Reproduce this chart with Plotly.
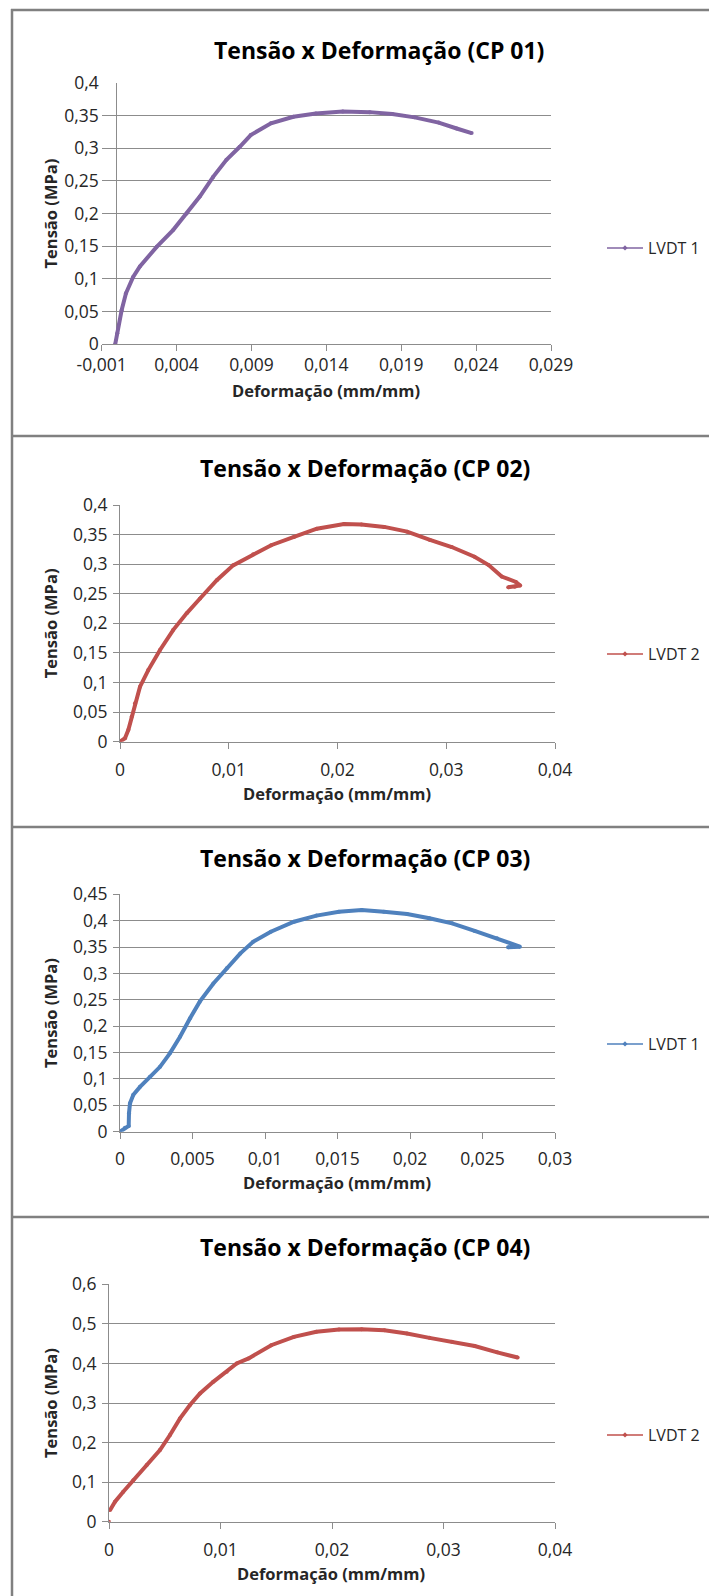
import plotly.graph_objects as go

W, H = 709, 1596

# ---- CP 01 (LVDT 1) ----
cp01_strain = [-0.0001, 0.00004, 0.00033, 0.00062, 0.0011, 0.00155, 0.00267, 0.00378,
               0.00467, 0.00555, 0.00644, 0.00733, 0.00822, 0.00895, 0.0103, 0.0118,
               0.0133, 0.0151, 0.0169, 0.0184, 0.0199, 0.0215, 0.0227, 0.0237]
cp01_stress = [0.0, 0.017, 0.052, 0.078, 0.103, 0.119, 0.149, 0.175,
               0.200, 0.226, 0.256, 0.282, 0.302, 0.320, 0.338, 0.348,
               0.353, 0.356, 0.355, 0.352, 0.347, 0.339, 0.330, 0.323]

# ---- CP 02 (LVDT 2) ----
cp02_strain = [0.0, 0.00046, 0.00077, 0.00107, 0.00138, 0.00184, 0.0026, 0.00368,
               0.0049, 0.00613, 0.00736, 0.0089, 0.0104, 0.01225, 0.0139, 0.016,
               0.0181, 0.0206, 0.0222, 0.0243, 0.0264, 0.0285, 0.0305, 0.0326,
               0.0339, 0.0351, 0.0364, 0.0368, 0.0363, 0.0357]
cp02_stress = [0.0, 0.006, 0.020, 0.042, 0.065, 0.093, 0.121, 0.155,
               0.189, 0.217, 0.242, 0.273, 0.298, 0.3166, 0.332, 0.346,
               0.360, 0.3677, 0.367, 0.363, 0.355, 0.341, 0.329, 0.3125,
               0.2985, 0.279, 0.270, 0.264, 0.262, 0.261]

# ---- CP 03 (LVDT 1) ----
cp03_strain = [0.0, 0.00034, 0.0006, 0.00062, 0.00069, 0.00092, 0.00138, 0.00207,
               0.00276, 0.00345, 0.00414, 0.00483, 0.0055, 0.00644, 0.00736, 0.0083,
               0.00918, 0.0104, 0.0120, 0.01355, 0.0151, 0.01667, 0.0182, 0.0198,
               0.02134, 0.0229, 0.02446, 0.0260, 0.02758, 0.02676]
cp03_stress = [0.0, 0.0076, 0.011, 0.035, 0.054, 0.070, 0.085, 0.104,
               0.123, 0.149, 0.180, 0.215, 0.2465, 0.281, 0.310, 0.338,
               0.360, 0.379, 0.398, 0.4096, 0.417, 0.4204, 0.417, 0.4128,
               0.4046, 0.395, 0.3806, 0.3667, 0.3508, 0.3496]

# ---- CP 04 (LVDT 2) ----
cp04_strain = [0.0, None, 0.0001, 0.00054, 0.00128, 0.00218, 0.00338, 0.00457,
               0.00547, 0.00637, 0.00726, 0.00816, 0.00935, 0.01056, 0.01145, 0.01252,
               0.01455, 0.01658, 0.0186, 0.02063, 0.02266, 0.0247, 0.02672, 0.02874,
               0.03076, 0.0328, 0.03482, 0.03665]
cp04_stress = [0.0, None, 0.0295, 0.0505, 0.0758, 0.105, 0.143, 0.181,
               0.219, 0.261, 0.295, 0.324, 0.3535, 0.379, 0.400, 0.4126,
               0.446, 0.467, 0.480, 0.486, 0.4866, 0.484, 0.4757, 0.4646,
               0.4545, 0.444, 0.428, 0.415]

titles = ["Tensão x Deformação (CP 01)", "Tensão x Deformação (CP 02)",
          "Tensão x Deformação (CP 03)", "Tensão x Deformação (CP 04)"]
series_names = ["LVDT 1", "LVDT 2", "LVDT 1", "LVDT 2"]

x_tickvals = [
    [-0.001, 0.004, 0.009, 0.014, 0.019, 0.024, 0.029],
    [0, 0.01, 0.02, 0.03, 0.04],
    [0, 0.005, 0.01, 0.015, 0.02, 0.025, 0.03],
    [0, 0.01, 0.02, 0.03, 0.04],
]
x_ticktext = [
    ["-0,001", "0,004", "0,009", "0,014", "0,019", "0,024", "0,029"],
    ["0", "0,01", "0,02", "0,03", "0,04"],
    ["0", "0,005", "0,01", "0,015", "0,02", "0,025", "0,03"],
    ["0", "0,01", "0,02", "0,03", "0,04"],
]
y_tickvals = [
    [0, 0.05, 0.1, 0.15, 0.2, 0.25, 0.3, 0.35, 0.4],
    [0, 0.05, 0.1, 0.15, 0.2, 0.25, 0.3, 0.35, 0.4],
    [0, 0.05, 0.1, 0.15, 0.2, 0.25, 0.3, 0.35, 0.4, 0.45],
    [0, 0.1, 0.2, 0.3, 0.4, 0.5, 0.6],
]
y_ticktext = [
    ["0", "0,05", "0,1", "0,15", "0,2", "0,25", "0,3", "0,35", "0,4"],
    ["0", "0,05", "0,1", "0,15", "0,2", "0,25", "0,3", "0,35", "0,4"],
    ["0", "0,05", "0,1", "0,15", "0,2", "0,25", "0,3", "0,35", "0,4", "0,45"],
    ["0", "0,1", "0,2", "0,3", "0,4", "0,5", "0,6"],
]

strains = [cp01_strain, cp02_strain, cp03_strain, cp04_strain]
stresses = [cp01_stress, cp02_stress, cp03_stress, cp04_stress]

# ---- layout geometry (pixels) ----
colors = ["#8064A2", "#C0504D", "#4F81BD", "#C0504D"]
x_ranges = [[-0.001, 0.029], [0, 0.04], [0, 0.03], [0, 0.04]]
y_ranges = [[0, 0.4], [0, 0.4], [0, 0.45], [0, 0.6]]
plot_left = [101.7, 120, 120, 109]
plot_right = [551, 555, 555, 555]
plot_top = [82.7, 505, 894.3, 1284.3]
plot_bottom = [344.3, 741.7, 1131.7, 1521.7]
title_pos = [(379, 50), (365, 468), (365, 858), (365, 1247)]
xtitle_pos = [(326, 390), (337, 793), (337, 1182), (331, 1573)]
legend_y = [248, 654, 1044, 1435]
label_standoff = [-1, 6, 5, 6]
panel_borders = [10, 436, 827, 1217]

FONT = "Open Sans"
GRID = "#8c8c8c"
TEXT = "#262626"


def px_x(v):
    return v / W


def px_y(v):
    return 1 - v / H


fig = go.Figure()
annotations = []
shapes = []

for i in range(4):
    sfx = "" if i == 0 else str(i + 1)
    xa, ya = "x" + sfx, "y" + sfx
    leg = "legend" + sfx

    fig.add_trace(go.Scatter(
        x=strains[i], y=stresses[i], xaxis=xa, yaxis=ya,
        mode="lines+markers", showlegend=False,
        line=dict(color=colors[i], width=4),
        marker=dict(color=colors[i], size=4),
        hoverinfo="skip",
    ))
    # legend entry: thin line with small marker
    fig.add_trace(go.Scatter(
        x=[None], y=[None], xaxis=xa, yaxis=ya, name=series_names[i],
        mode="lines+markers", legend=leg,
        line=dict(color=colors[i], width=1.5),
        marker=dict(color=colors[i], size=4, symbol="diamond"),
    ))

    fig.update_layout(**{
        "xaxis" + sfx: dict(
            domain=[px_x(plot_left[i]), px_x(plot_right[i])],
            range=x_ranges[i], anchor=ya, automargin=False,
            tickvals=x_tickvals[i], ticktext=x_ticktext[i],
            ticks="outside", ticklen=6, tickcolor=GRID, tickwidth=1,
            showline=True, linecolor=GRID, linewidth=1,
            showgrid=False,
            zeroline=(i == 0), zerolinecolor=GRID, zerolinewidth=1,
            tickfont=dict(family=FONT, size=17.5, color=TEXT),
            ticklabelstandoff=label_standoff[i],
        ),
        "yaxis" + sfx: dict(
            domain=[px_y(plot_bottom[i]), px_y(plot_top[i])],
            range=y_ranges[i], anchor=xa, automargin=False,
            tickvals=y_tickvals[i], ticktext=y_ticktext[i],
            ticks="" if i == 0 else "outside", ticklen=6, tickcolor=GRID,
            showline=(i != 0), linecolor=GRID, linewidth=1,
            showgrid=True, gridcolor=GRID, gridwidth=1,
            zeroline=False,
            tickfont=dict(family=FONT, size=17.5, color=TEXT),
            ticklabelstandoff=2,
        ),
        leg: dict(
            x=px_x(602), y=px_y(legend_y[i]), xanchor="left", yanchor="middle",
            font=dict(family=FONT, size=16, color=TEXT), itemwidth=36,
            bgcolor="rgba(0,0,0,0)", borderwidth=0,
        ),
    })

    tx, ty = title_pos[i]
    annotations.append(dict(
        text="<b>" + titles[i] + "</b>", x=px_x(tx), y=px_y(ty),
        xref="paper", yref="paper", showarrow=False,
        xanchor="center", yanchor="middle",
        font=dict(family=FONT, size=23, color="#000000"),
    ))
    ax, ay = xtitle_pos[i]
    annotations.append(dict(
        text="<b>Deformação (mm/mm)</b>", x=px_x(ax), y=px_y(ay),
        xref="paper", yref="paper", showarrow=False,
        xanchor="center", yanchor="middle",
        font=dict(family=FONT, size=16.5, color=TEXT),
    ))
    annotations.append(dict(
        text="<b>Tensão (MPa)</b>", x=px_x(50),
        y=px_y((plot_top[i] + plot_bottom[i]) / 2),
        xref="paper", yref="paper", showarrow=False, textangle=-90,
        xanchor="center", yanchor="middle",
        font=dict(family=FONT, size=16.5, color=TEXT),
    ))

# chart frames
for yb in panel_borders:
    shapes.append(dict(type="line", xref="paper", yref="paper",
                       x0=px_x(11), x1=1.01, y0=px_y(yb), y1=px_y(yb),
                       line=dict(color="#808080", width=2.5)))
shapes.append(dict(type="line", xref="paper", yref="paper",
                   x0=px_x(12), x1=px_x(12), y0=px_y(9), y1=-0.01,
                   line=dict(color="#808080", width=2.5)))

fig.update_layout(
    width=W, height=H,
    margin=dict(l=0, r=0, t=0, b=0, autoexpand=False),
    paper_bgcolor="white", plot_bgcolor="white",
    annotations=annotations, shapes=shapes,
    font=dict(family=FONT),
)

fig.write_html("out.html")
